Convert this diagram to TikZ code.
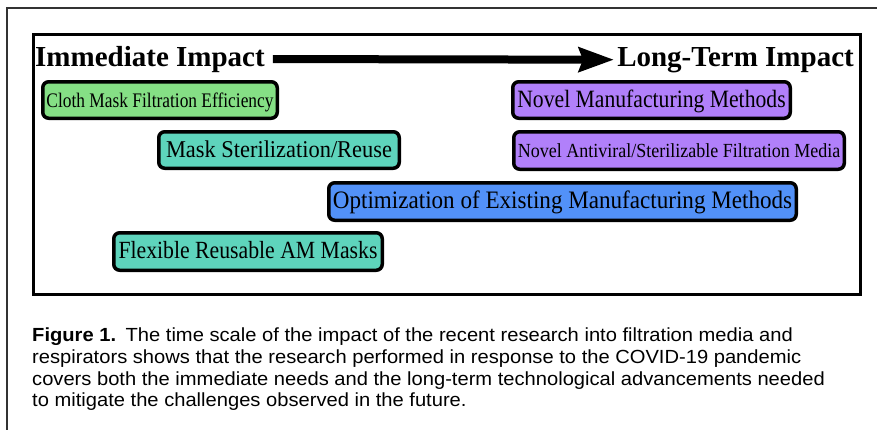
\documentclass[tikz,border=0pt]{standalone}
\usepackage{fontspec}
\setmainfont{Liberation Serif}
\newfontfamily\capfont[FakeStretch=1.06]{Liberation Sans}
\usetikzlibrary{arrows.meta}
\definecolor{boxgreen}{RGB}{133,223,133}
\definecolor{boxteal}{RGB}{94,212,188}
\definecolor{boxpurple}{RGB}{177,128,250}
\definecolor{boxblue}{RGB}{82,145,248}
\definecolor{framegray}{RGB}{50,50,50}
\newcommand{\boxfontset}[2]{\fontsize{#1}{#1}\selectfont\addfontfeatures{FakeStretch=#2}}
\tikzset{
  impbox/.style={draw=black, line width=3.5pt, rounded corners=6pt, inner sep=0pt, text=black,
    text height=17pt, text depth=3pt},
  titletext/.style={inner sep=0pt, font=\fontsize{29}{30}\selectfont\bfseries},
  capline/.style={anchor=base west, inner sep=0pt, font=\capfont\fontsize{19}{21.7}\selectfont},
}
\begin{document}
\begin{tikzpicture}[x=1pt,y=-1pt]
\useasboundingbox (0,0) rectangle (877,429);
\fill[white] (0,0) rectangle (877,429);
% outer (cropped) frame
\draw[line width=1.5pt, framegray] (7,432) -- (7,8) -- (880,8);
% inner frame
\draw[line width=3.5pt] (33.5,34.5) rectangle (860.5,294.5);
% titles
\node[titletext, anchor=base west] (imm) at (35,66) {Immediate Impact};
\node[titletext, anchor=base east] (lt) at (854,66) {Long-Term Impact};
\draw[line width=8pt, -{Stealth[length=35pt,width=24pt,inset=4pt]}, shorten <=8pt, shorten >=3pt] (imm.east) -- (lt.west);
% boxes
\node[impbox, fill=boxgreen, minimum width=234.5pt, minimum height=36.5pt, font=\boxfontset{20.7}{0.84}] (cloth) at (160,100) {Cloth Mask Filtration Efficiency};
\node[impbox, fill=boxteal, minimum width=240.5pt, minimum height=36.5pt, font=\boxfontset{24.1}{0.93}] (steril) at (279,150) {Mask Sterilization/Reuse};
\node[impbox, fill=boxpurple, minimum width=277.5pt, minimum height=36.5pt, font=\boxfontset{24.9}{0.87}] (novman) at (651.5,100) {Novel Manufacturing Methods};
\node[impbox, fill=boxpurple, minimum width=330.5pt, minimum height=37.5pt, font=\boxfontset{20.0}{0.90}] (novanti) at (679,150.5) {Novel Antiviral/Sterilizable Filtration Media};
\node[impbox, fill=boxblue, minimum width=467.5pt, minimum height=37.5pt, font=\boxfontset{25.1}{0.92}] (optim) at (562.5,201.5) {Optimization of Existing Manufacturing Methods};
\node[impbox, fill=boxteal, minimum width=268.5pt, minimum height=37.5pt, font=\boxfontset{24.7}{0.88}] (flex) at (248,251.5) {Flexible Reusable AM Masks};
% caption
\node[capline] (cap1) at (32,341.7) {\textbf{Figure 1.}\hspace{0.5em}The time scale of the impact of the recent research into filtration media and};
\node[capline] (cap2) at (32,363.4) {respirators shows that the research performed in response to the COVID-19 pandemic};
\node[capline] (cap3) at (32,385.1) {covers both the immediate needs and the long-term technological advancements needed};
\node[capline] (cap4) at (32,406.8) {to mitigate the challenges observed in the future.};
\end{tikzpicture}
\end{document}
